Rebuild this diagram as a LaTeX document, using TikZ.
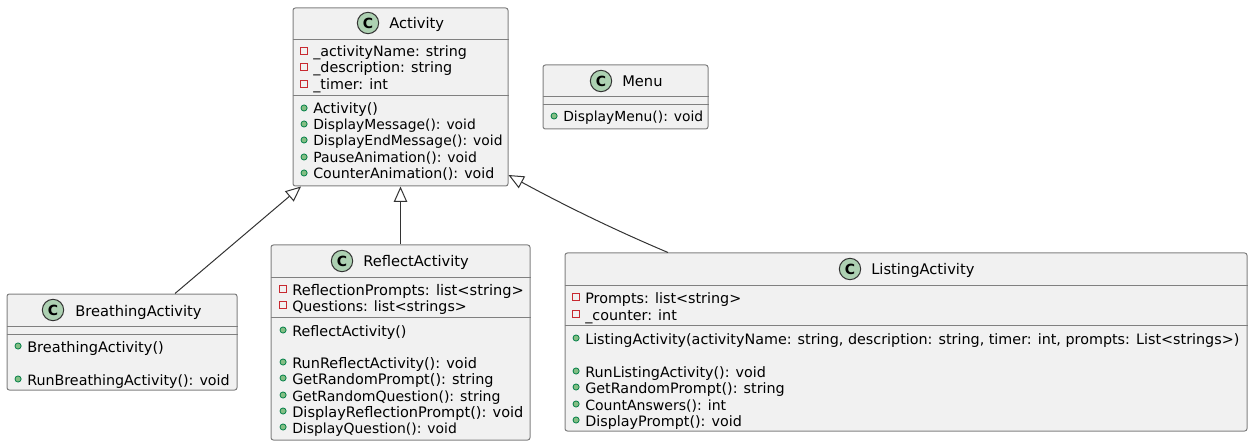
\documentclass[tikz,border=0pt]{standalone}
\usepackage{fontspec}
\setmainfont{DejaVu Sans}
\usetikzlibrary{arrows.meta,fit}
\definecolor{boxfill}{HTML}{F1F1F1}
\definecolor{boxline}{HTML}{808080}
\definecolor{badgefill}{HTML}{ADD1B2}
\definecolor{privred}{HTML}{C82930}
\definecolor{pubgreen}{HTML}{84BE84}
\definecolor{publine}{HTML}{038048}
\tikzset{
  classbox/.style={draw=boxline,fill=boxfill,line width=0.75pt,rounded corners=1.8pt,inner sep=0pt},
  sepline/.style={draw=boxline,line width=0.75pt},
  badge/.style={circle,draw=black!80,fill=badgefill,line width=0.75pt,minimum size=16pt,inner sep=0pt,font=\fontsize{10.5}{12}\bfseries},
  title/.style={anchor=west,inner sep=0pt,text height=9pt,text depth=0pt,font=\fontsize{11}{12}\selectfont},
  sz/.style={font=\fontsize{#1}{12}\selectfont},
  row/.style={anchor=west,inner sep=0pt,text height=9pt,text depth=0pt,sz=10.75},
  privmark/.style={rectangle,draw=privred,line width=1pt,minimum size=5.2pt,inner sep=0pt,xshift=-3.8pt},
  pubmark/.style={circle,draw=publine,fill=pubgreen,line width=0.6pt,minimum size=4.6pt,inner sep=0pt,xshift=-4.1pt},
  priv/.style={row,label={[privmark]left:{}}},
  pub/.style={row,label={[pubmark]left:{}}},
  inherit/.style={black!80,line width=0.75pt,-{Triangle[open,fill=white,length=11.5pt,width=10pt]}}
}
\begin{document}
\begin{tikzpicture}[x=0.75pt,y=-0.75pt]
    \useasboundingbox (0,0) rectangle (1252,445);
    % class boxes
    \node[classbox,fit={(293,8) (508,186)}] (activity) {};
    \node[classbox,fit={(543,65) (708,129)}] (menu) {};
    \node[classbox,fit={(7,294) (237,390)}] (breathing) {};
    \node[classbox,fit={(271,245) (530,440)}] (reflect) {};
    \node[classbox,fit={(565,253) (1247,431)}] (listing) {};
    % separators
    \draw[sepline] (activity.west |- 0,40) -- (activity.east |- 0,40);
    \draw[sepline] (activity.west |- 0,96) -- (activity.east |- 0,96);
    \draw[sepline] (menu.west |- 0,97) -- (menu.east |- 0,97);
    \draw[sepline] (menu.west |- 0,105) -- (menu.east |- 0,105);
    \draw[sepline] (breathing.west |- 0,326) -- (breathing.east |- 0,326);
    \draw[sepline] (breathing.west |- 0,334) -- (breathing.east |- 0,334);
    \draw[sepline] (reflect.west |- 0,277) -- (reflect.east |- 0,277);
    \draw[sepline] (reflect.west |- 0,317) -- (reflect.east |- 0,317);
    \draw[sepline] (listing.west |- 0,285) -- (listing.east |- 0,285);
    \draw[sepline] (listing.west |- 0,325) -- (listing.east |- 0,325);
    % headers
    \node[badge] (activityC) at (368,23) {C};
    \node[title] (activityT) at (389,23) {Activity};
    \node[badge] (menuC) at (601,81) {C};
    \node[title] (menuT) at (622,81) {Menu};
    \node[badge] (breathingC) at (53,310) {C};
    \node[title] (breathingT) at (75,310) {BreathingActivity};
    \node[badge] (reflectC) at (342,261) {C};
    \node[title] (reflectT) at (363,261) {ReflectActivity};
    \node[badge] (listingC) at (850,269) {C};
    \node[title] (listingT) at (871,269) {ListingActivity};
    % Activity
    \node[priv,sz=10.7] (a1) at (313,51) {\_activityName: string};
    \node[priv] (a2) at (313,67) {\_description: string};
    \node[priv] (a3) at (313,84) {\_timer: int};
    \node[pub] (a4) at (313,108) {Activity()};
    \node[pub,sz=10.4] (a5) at (313,124) {DisplayMessage(): void};
    \node[pub,sz=10.42] (a6) at (313,140) {DisplayEndMessage(): void};
    \node[pub,sz=10.5] (a7) at (313,157) {PauseAnimation(): void};
    \node[pub,sz=10.65] (a8) at (313,173) {CounterAnimation(): void};
    % Menu
    \node[pub,sz=10.4] (m1) at (563,116) {DisplayMenu(): void};
    % BreathingActivity
    \node[pub,sz=10.9] (b1) at (27,346) {BreathingActivity()};
    \node[pub,sz=10.7] (b2) at (27,379) {RunBreathingActivity(): void};
    % ReflectActivity
    \node[priv,sz=10.95] (r1) at (292,289) {ReflectionPrompts: list<string>};
    \node[priv,sz=10.65] (r2) at (292,305) {Questions: list<strings>};
    \node[pub] (r3) at (292,330) {ReflectActivity()};
    \node[pub,sz=10.85] (r4) at (292,362) {RunReflectActivity(): void};
    \node[pub,sz=10.85] (r5) at (292,378) {GetRandomPrompt(): string};
    \node[pub,sz=10.55] (r6) at (292,395) {GetRandomQuestion(): string};
    \node[pub,sz=10.9] (r7) at (292,411) {DisplayReflectionPrompt(): void};
    \node[pub,sz=10.45] (r8) at (292,427) {DisplayQuestion(): void};
    % ListingActivity
    \node[priv] (l1) at (585,297) {Prompts: list<string>};
    \node[priv] (l2) at (585,314) {\_counter: int};
    \node[pub] (l3) at (585,338) {ListingActivity(activityName: string, description: string, timer: int, prompts: List<strings>)};
    \node[pub] (l4) at (585,371) {RunListingActivity(): void};
    \node[pub] (l5) at (585,387) {GetRandomPrompt(): string};
    \node[pub,sz=10.55] (l6) at (585,404) {CountAnswers(): int};
    \node[pub] (l7) at (585,420) {DisplayPrompt(): void};
    % inheritance
    \draw[inherit] (175,0 |- breathing.north) -- (301,0 |- activity.south);
    \draw[inherit] (reflect.north) -- (activity.south);
    \draw[inherit] (668,0 |- listing.north) .. controls (610,228) and (560,203) .. (activity.east |- 0,175);
\end{tikzpicture}
\end{document}
